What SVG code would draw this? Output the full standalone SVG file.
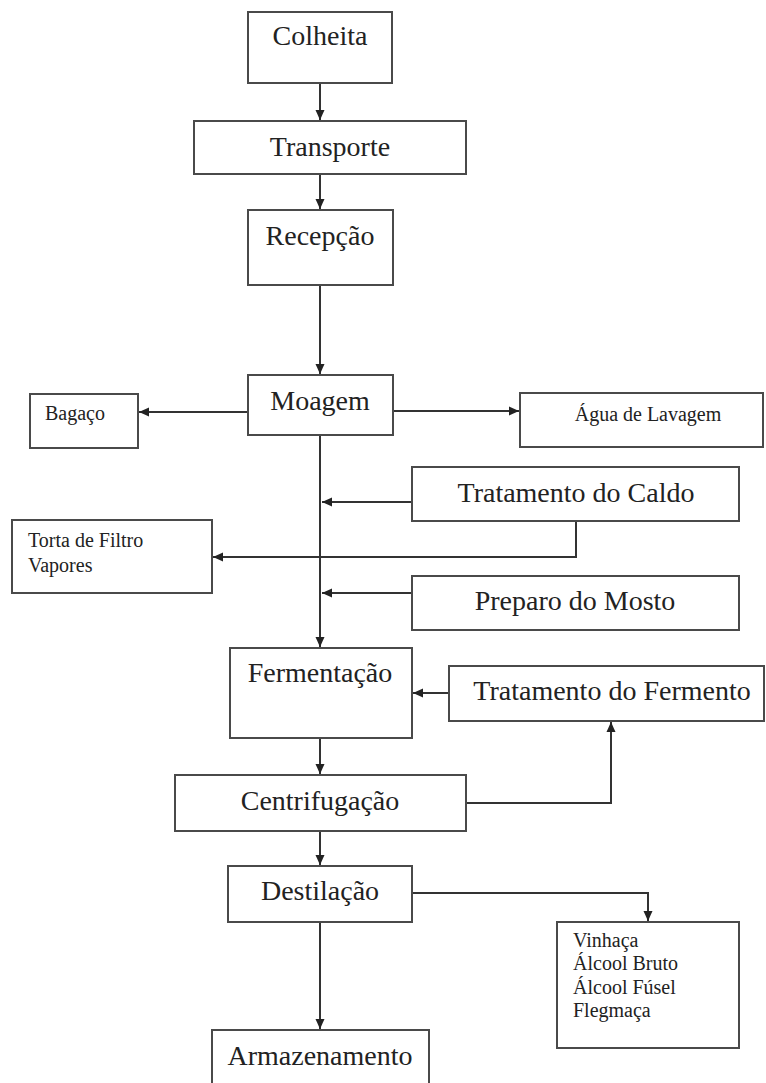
<svg xmlns="http://www.w3.org/2000/svg" width="766" height="1083" viewBox="0 0 766 1083">
<style>
.box{fill:#fff;stroke:#4a4a4a;stroke-width:2}
.t{font-family:'Liberation Serif','Times New Roman','DejaVu Serif',serif;font-size:28px;fill:#222;text-anchor:middle}
.s{font-family:'Liberation Serif','Times New Roman','DejaVu Serif',serif;font-size:20px;fill:#222}
.c{fill:none;stroke:#333;stroke-width:2}
</style>
<defs>
<marker id="ah" markerUnits="userSpaceOnUse" markerWidth="12" markerHeight="12" viewBox="0 0 12 12" refX="11" refY="6" orient="auto">
<path d="M1,1.5 L11,6 L1,10.5 Z" fill="#222"/>
</marker>
</defs>
<rect width="766" height="1083" fill="#fff"/>
<g id="connectors">
<line class="c" x1="320" y1="83" x2="320" y2="120" marker-end="url(#ah)"/>
<line class="c" x1="320" y1="174" x2="320" y2="209" marker-end="url(#ah)"/>
<line class="c" x1="320" y1="285" x2="320" y2="374" marker-end="url(#ah)"/>
<line class="c" x1="248" y1="412" x2="139" y2="412" marker-end="url(#ah)"/>
<line class="c" x1="393" y1="411" x2="519" y2="411" marker-end="url(#ah)"/>
<line class="c" x1="320" y1="435" x2="320" y2="647" marker-end="url(#ah)"/>
<line class="c" x1="412" y1="502" x2="322" y2="502" marker-end="url(#ah)"/>
<path class="c" d="M576,521 V557 H213" marker-end="url(#ah)"/>
<line class="c" x1="412" y1="593" x2="322" y2="593" marker-end="url(#ah)"/>
<line class="c" x1="449" y1="693" x2="413" y2="693" marker-end="url(#ah)"/>
<line class="c" x1="320" y1="738" x2="320" y2="774" marker-end="url(#ah)"/>
<path class="c" d="M466,803 H611 V722" marker-end="url(#ah)"/>
<line class="c" x1="320" y1="831" x2="320" y2="865" marker-end="url(#ah)"/>
<path class="c" d="M412,893 H648 V921" marker-end="url(#ah)"/>
<line class="c" x1="320" y1="922" x2="320" y2="1029" marker-end="url(#ah)"/>
</g>
<g id="colheita"><rect class="box" x="248" y="12" width="144" height="71"/><text class="t" x="320" y="45" font-size="26">Colheita</text></g>
<g id="transporte"><rect class="box" x="194" y="121" width="272" height="53"/><text class="t" x="330" y="156">Transporte</text></g>
<g id="recepcao"><rect class="box" x="248" y="210" width="145" height="75"/><text class="t" x="320" y="245">Recepção</text></g>
<g id="moagem"><rect class="box" x="248" y="375" width="145" height="60"/><text class="t" x="320" y="410">Moagem</text></g>
<g id="bagaco"><rect class="box" x="30" y="394" width="108" height="54"/><text class="s" x="45" y="420">Bagaço</text></g>
<g id="agua"><rect class="box" x="520" y="393" width="243" height="54"/><text class="s" x="648" y="421" text-anchor="middle">Água de Lavagem</text></g>
<g id="tratamento-caldo"><rect class="box" x="412" y="467" width="327" height="54"/><text class="t" x="576" y="502">Tratamento do Caldo</text></g>
<g id="torta"><rect class="box" x="12" y="520" width="200" height="73"/><text class="s" x="28" y="547">Torta de Filtro</text><text class="s" x="28" y="572">Vapores</text></g>
<g id="preparo"><rect class="box" x="412" y="576" width="327" height="54"/><text class="t" x="575" y="610">Preparo do Mosto</text></g>
<g id="fermentacao"><rect class="box" x="230" y="648" width="182" height="90"/><text class="t" x="320" y="682">Fermentação</text></g>
<g id="tratamento-fermento"><rect class="box" x="449" y="666" width="315" height="55"/><text class="t" x="612" y="700">Tratamento do Fermento</text></g>
<g id="centrifugacao"><rect class="box" x="175" y="775" width="291" height="56"/><text class="t" x="320" y="810">Centrifugação</text></g>
<g id="destilacao"><rect class="box" x="228" y="866" width="184" height="56"/><text class="t" x="320" y="900">Destilação</text></g>
<g id="residuos"><rect class="box" x="557" y="922" width="182" height="126"/><text class="s" x="573" y="947">Vinhaça</text><text class="s" x="573" y="970">Álcool Bruto</text><text class="s" x="573" y="994">Álcool Fúsel</text><text class="s" x="573" y="1017">Flegmaça</text></g>
<g id="armazenamento"><rect class="box" x="212" y="1030" width="217" height="70"/><text class="t" x="320" y="1065">Armazenamento</text></g>
</svg>
